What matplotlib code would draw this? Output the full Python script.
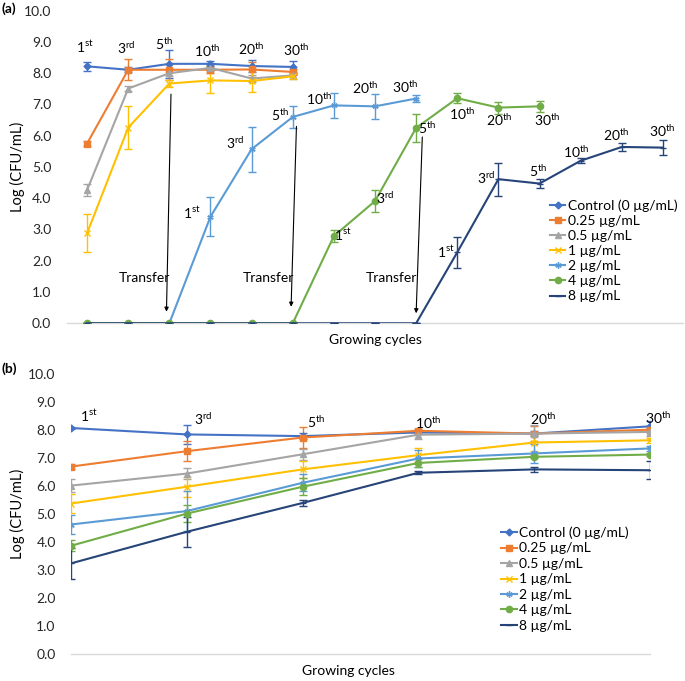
import numpy as np
import matplotlib
matplotlib.use('agg')
import matplotlib.pyplot as plt

plt.rcParams['font.family'] = ['Lato', 'DejaVu Sans']
plt.rcParams['mathtext.fontset'] = 'custom'
plt.rcParams['mathtext.rm'] = 'Lato'

nan = np.nan

# series settings shared by both panels
series_names = ['Control (0 µg/mL)', '0.25 µg/mL', '0.5 µg/mL', '1 µg/mL',
                '2 µg/mL', '4 µg/mL', '8 µg/mL']
colors = ['#4472C4', '#ED7D31', '#A5A5A5', '#FFC000', '#5B9BD5', '#70AD47', '#264478']
markers = ['D', 's', '^', 'x', (6, 2, 0), 'o', '_']
marker_sizes = [3.5, 4.5, 4.5, 4, 4.5, 4.5, 5]

# (a) 15 category slots, each series shifted after its transfer
ctrl_a = [8.22, 8.11, 8.30, 8.30, 8.23, 8.20] + [nan] * 9
ctrl_a_err = [0.14, 0.08, 0.45, 0.08, 0.20, 0.20] + [nan] * 9
c025_a = [5.75, 8.11, 8.11, 8.11, 8.12, 8.04] + [nan] * 9
c025_a_err = [0.08, 0.33, 0.33, 0.10, 0.25, 0.10] + [nan] * 9
c05_a = [4.26, 7.51, 8.00, 8.17, 7.83, 7.93] + [nan] * 9
c05_a_err = [0.19, 0.07, 0.10, 0.10, 0.10, 0.10] + [nan] * 9
c1_a = [2.88, 6.26, 7.67, 7.77, 7.75, 7.90] + [nan] * 9
c1_a_err = [0.60, 0.70, 0.12, 0.39, 0.35, 0.08] + [nan] * 9
c2_a = [0, 0, 0, 3.41, 5.57, 6.60, 6.97, 6.94, 7.19] + [nan] * 6
c2_a_err = [0, 0, 0, 0.62, 0.72, 0.36, 0.40, 0.40, 0.12] + [nan] * 6
c4_a = [0] * 6 + [2.79, 3.91, 6.25, 7.20, 6.90, 6.94] + [nan] * 3
c4_a_err = [0] * 6 + [0.19, 0.36, 0.44, 0.16, 0.19, 0.18] + [nan] * 3
c8_a = [0] * 9 + [2.27, 4.61, 4.47, 5.20, 5.64, 5.62]
c8_a_err = [0] * 9 + [0.50, 0.53, 0.15, 0.08, 0.13, 0.25]

# (b) six growing cycles
cycles = ['1st', '3rd', '5th', '10th', '20th', '30th']
ctrl_b = [8.08, 7.85, 7.79, 7.92, 7.88, 8.14]
ctrl_b_err = [0.05, 0.33, 0.10, 0.05, 0.10, 0.20]
c025_b = [6.70, 7.25, 7.74, 7.98, 7.88, 8.02]
c025_b_err = [0.10, 0.35, 0.38, 0.08, 0.27, 0.10]
c05_b = [6.02, 6.45, 7.14, 7.84, 7.88, 7.94]
c05_b_err = [0.22, 0.20, 0.20, 0.15, 0.30, 0.15]
c1_b = [5.38, 5.98, 6.60, 7.11, 7.56, 7.64]
c1_b_err = [0.35, 0.35, 0.30, 0.25, 0.30, 0.10]
c2_b = [4.63, 5.11, 6.12, 6.99, 7.17, 7.35]
c2_b_err = [0.35, 0.70, 0.30, 0.30, 0.35, 0.10]
c4_b = [3.87, 5.02, 5.98, 6.83, 7.05, 7.13]
c4_b_err = [0.20, 0.30, 0.30, 0.15, 0.05, 0.05]
c8_b = [3.24, 4.37, 5.40, 6.48, 6.60, 6.57]
c8_b_err = [0.56, 0.53, 0.12, 0.05, 0.10, 0.32]

vals_a = [ctrl_a, c025_a, c05_a, c1_a, c2_a, c4_a, c8_a]
errs_a = [ctrl_a_err, c025_a_err, c05_a_err, c1_a_err, c2_a_err, c4_a_err, c8_a_err]
vals_b = [ctrl_b, c025_b, c05_b, c1_b, c2_b, c4_b, c8_b]
errs_b = [ctrl_b_err, c025_b_err, c05_b_err, c1_b_err, c2_b_err, c4_b_err, c8_b_err]

# cycle labels in (a): (series index, first slot, pixel offsets)
labels_a = [
    (0, 0, [(-2, 19), (-2, 22), (-5, 20), (-3, 13), (0, 17), (3, 17)]),
    (4, 3, [(-19, 4), (-16, 6), (-13, 2), (-15, 7), (-10, 19), (-11, 12)]),
    (5, 6, [(9, 1), (10, 3), (11, 0), (5, -15), (1, -12), (8, -13)]),
    (6, 9, [(-11, 0), (-12, 1), (-1, 13), (-4, 9), (-6, 12), (-1, 17)]),
]
labels_b_off = [(18, 12), (16, 16), (14, 14), (10, 10), (9, 15), (8, 9)]

# transfer arrows (start, end) in data coords of (a)
transfers = [((2.04, 7.33), (1.93, 0.37)),
             ((5.09, 6.30), (4.96, 0.53)),
             ((8.15, 5.96), (8.00, 0.32))]
transfer_text = [(1.4, 1.45), (4.4, 1.45), (7.4, 1.45)]


def ordinal(s):
    return s[:-2] + r'$^{\mathregular{' + s[-2:] + '}}$'


def draw_series(ax, x, vals, errs):
    handles = []
    for i in range(len(vals)):
        y = np.array(vals[i], dtype=float)
        e = np.array(errs[i], dtype=float)
        ax.errorbar(x, y, yerr=e, fmt='none', ecolor=colors[i], elinewidth=1.0,
                    capsize=3, capthick=1.0, zorder=2 + i * 0.1)
        line, = ax.plot(x, y, color=colors[i], lw=1.5, marker=markers[i],
                        markersize=marker_sizes[i], markeredgecolor=colors[i],
                        markeredgewidth=1.0, label=series_names[i],
                        zorder=3 + i * 0.1)
        handles.append(line)
    return handles


def style_axis(ax):
    for side in ['top', 'right', 'left']:
        ax.spines[side].set_visible(False)
    ax.spines['bottom'].set_color('#D9D9D9')
    ax.spines['bottom'].set_linewidth(1.0)
    ax.set_ylim(0, 10)
    ax.set_yticks(np.arange(0, 10.5, 1.0))
    ax.set_yticklabels([f'{v:.1f}' for v in np.arange(0, 10.5, 1.0)])
    ax.tick_params(axis='y', length=0, pad=11, labelsize=10, colors='#262626')
    ax.tick_params(axis='x', length=0, labelbottom=False)


fig = plt.figure(figsize=(6.85, 6.81), dpi=100)

# ---- panel (a)
ax1 = fig.add_axes([0.0971, 0.5253, 0.9007, 0.4590])
xa = np.arange(15)
h1 = draw_series(ax1, xa, vals_a, errs_a)
ax1.set_xlim(-0.5, 14.5)
style_axis(ax1)
ax1.set_ylabel('Log (CFU/mL)', fontsize=10.5)
ax1.yaxis.set_label_coords(-0.068, 0.5)

for si, start, offs in labels_a:
    for k, (dx, dy) in enumerate(offs):
        xi = start + k
        ax1.annotate(ordinal(cycles[k]), (xi, vals_a[si][xi]), xytext=(dx, dy),
                     textcoords='offset pixels', ha='center', va='center',
                     fontsize=10, color='black', zorder=10)

for (p0, p1), tp in zip(transfers, transfer_text):
    ax1.annotate('', xy=p1, xytext=p0,
                 arrowprops=dict(arrowstyle='-|>', color='black', lw=0.8,
                                 mutation_scale=6, shrinkA=0, shrinkB=0),
                 zorder=9)
    ax1.text(tp[0], tp[1], 'Transfer', ha='center', va='center', fontsize=10)

ax1.legend(handles=h1, loc='upper left', bbox_to_anchor=(0.803, 0.707),
           bbox_transform=fig.transFigure, frameon=False, fontsize=10,
           handlelength=1.1, handletextpad=0.2, labelspacing=0.22,
           borderaxespad=0, borderpad=0)

fig.text(0.548, 0.500, 'Growing cycles', ha='center', va='center', fontsize=10)
fig.text(0.002, 0.988, '(a)', ha='left', va='center', fontsize=10, fontweight='bold')

# ---- panel (b)
ax2 = fig.add_axes([0.1036, 0.0396, 0.8453, 0.4108])
xb = np.arange(len(cycles))
h2 = draw_series(ax2, xb, vals_b, errs_b)
ax2.set_xlim(0, 5)
style_axis(ax2)
ax2.set_ylabel('Log (CFU/mL)', fontsize=10.5)
ax2.yaxis.set_label_coords(-0.079, 0.5)

for k, (dx, dy) in enumerate(labels_b_off):
    ax2.annotate(ordinal(cycles[k]), (xb[k], ctrl_b[k]), xytext=(dx, dy),
                 textcoords='offset pixels', ha='center', va='center',
                 fontsize=10, color='black', zorder=10, annotation_clip=False)

ax2.legend(handles=h2, loc='upper left', bbox_to_anchor=(0.732, 0.227),
           bbox_transform=fig.transFigure, frameon=False, fontsize=10,
           handlelength=1.1, handletextpad=0.2, labelspacing=0.25,
           borderaxespad=0, borderpad=0)

fig.text(0.508, 0.014, 'Growing cycles', ha='center', va='center', fontsize=10)
fig.text(0.002, 0.459, '(b)', ha='left', va='center', fontsize=10, fontweight='bold')

fig.savefig('out.png', dpi=100)
plt.close(fig)
